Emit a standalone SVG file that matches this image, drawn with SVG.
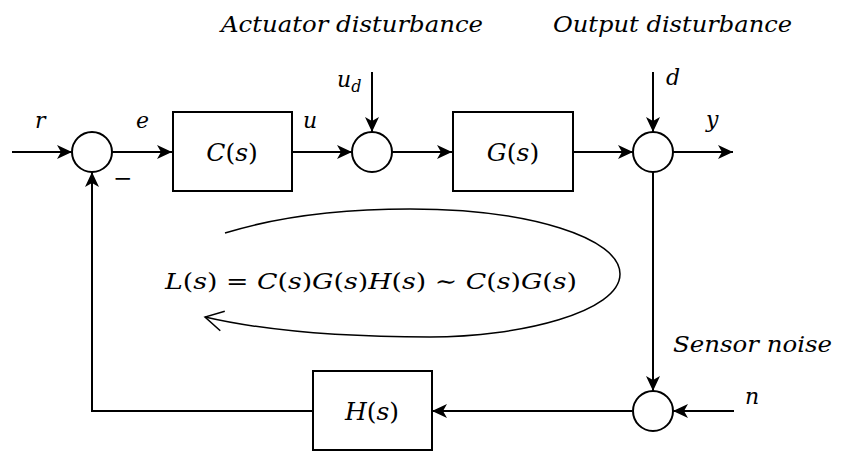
<svg xmlns="http://www.w3.org/2000/svg" width="846" height="462" viewBox="0 0 846 462">
<style>
.ln{fill:none;stroke:#000;stroke-width:2}
.box{fill:#fff;stroke:#000;stroke-width:2}
.t{font-family:"DejaVu Serif","Liberation Serif",serif;font-style:italic;font-size:22px;fill:#000}
.m{font-family:"DejaVu Serif","Liberation Serif",serif;font-size:23px;fill:#000}
.b{font-size:25px}
.i{font-style:italic}
.c{text-anchor:middle}
</style>
<defs>
<marker id="ah" markerUnits="userSpaceOnUse" markerWidth="16" markerHeight="14" refX="15" refY="7" orient="auto">
<path d="M0,0 L15,7 L0,14 L4,7 z" fill="#000"/>
</marker>
<marker id="oa" markerUnits="userSpaceOnUse" markerWidth="22" markerHeight="24" refX="20" refY="12" orient="auto">
<path d="M2,2 L20,12 L2,22" fill="none" stroke="#000" stroke-width="1.5"/>
</marker>
</defs>
<rect width="846" height="462" fill="#fff"/>
<g id="connectors">
<line class="ln" x1="12" y1="152" x2="72" y2="152" marker-end="url(#ah)"/>
<line class="ln" x1="112" y1="152" x2="172" y2="152" marker-end="url(#ah)"/>
<line class="ln" x1="292" y1="152" x2="352" y2="152" marker-end="url(#ah)"/>
<line class="ln" x1="372" y1="72" x2="372" y2="132" marker-end="url(#ah)"/>
<line class="ln" x1="392" y1="152" x2="452" y2="152" marker-end="url(#ah)"/>
<line class="ln" x1="573" y1="152" x2="633" y2="152" marker-end="url(#ah)"/>
<line class="ln" x1="653" y1="72" x2="653" y2="132" marker-end="url(#ah)"/>
<line class="ln" x1="673" y1="152" x2="733" y2="152" marker-end="url(#ah)"/>
<line class="ln" x1="653" y1="172" x2="653" y2="391" marker-end="url(#ah)"/>
<line class="ln" x1="734" y1="411" x2="673" y2="411" marker-end="url(#ah)"/>
<line class="ln" x1="632" y1="411" x2="432" y2="411" marker-end="url(#ah)"/>
<polyline class="ln" points="313,411 92,411 92,172" marker-end="url(#ah)"/>
<path d="M225,233 C280,216 340,209 410,209 C530,209 620,238 620,274 C620,312 520,337 430,337 C350,337 270,332 205,317" fill="none" stroke="#000" stroke-width="1.5" marker-end="url(#oa)"/>
</g>
<g id="sum1"><circle class="box" cx="92" cy="152" r="20"/></g>
<g id="sum2"><circle class="box" cx="372" cy="152" r="20"/></g>
<g id="sum3"><circle class="box" cx="653" cy="152" r="20"/></g>
<g id="sum4"><circle class="box" cx="653" cy="411" r="20"/></g>
<g id="C"><rect class="box" x="173" y="112" width="119" height="79"/><text class="m b c" x="232" y="161"><tspan class="i">C</tspan>(<tspan class="i">s</tspan>)</text></g>
<g id="G"><rect class="box" x="453" y="112" width="120" height="79"/><text class="m b c" x="513" y="161"><tspan class="i">G</tspan>(<tspan class="i">s</tspan>)</text></g>
<g id="H"><rect class="box" x="313" y="371" width="119" height="79"/><text class="m b c" x="372" y="420"><tspan class="i">H</tspan>(<tspan class="i">s</tspan>)</text></g>
<g id="labels">
<text class="t" x="35" y="128">r</text>
<text class="t" x="136" y="128">e</text>
<text class="m" x="113" y="186">−</text>
<text class="t" x="303" y="128">u</text>
<text class="t" x="337" y="87">u<tspan font-size="16" dy="5">d</tspan></text>
<text class="t" x="666" y="85">d</text>
<text class="t" x="706" y="127">y</text>
<text class="t" x="745" y="404">n</text>
<text class="t" x="221" y="32" textLength="262" lengthAdjust="spacingAndGlyphs">Actuator disturbance</text>
<text class="t" x="553" y="32" textLength="239" lengthAdjust="spacingAndGlyphs">Output disturbance</text>
<text class="t" x="673" y="352" textLength="159" lengthAdjust="spacingAndGlyphs">Sensor noise</text>
<text class="m" x="165" y="289" textLength="412" lengthAdjust="spacingAndGlyphs"><tspan class="i">L</tspan>(<tspan class="i">s</tspan>) = <tspan class="i">C</tspan>(<tspan class="i">s</tspan>)<tspan class="i">G</tspan>(<tspan class="i">s</tspan>)<tspan class="i">H</tspan>(<tspan class="i">s</tspan>) ∼ <tspan class="i">C</tspan>(<tspan class="i">s</tspan>)<tspan class="i">G</tspan>(<tspan class="i">s</tspan>)</text>
</g>
</svg>
